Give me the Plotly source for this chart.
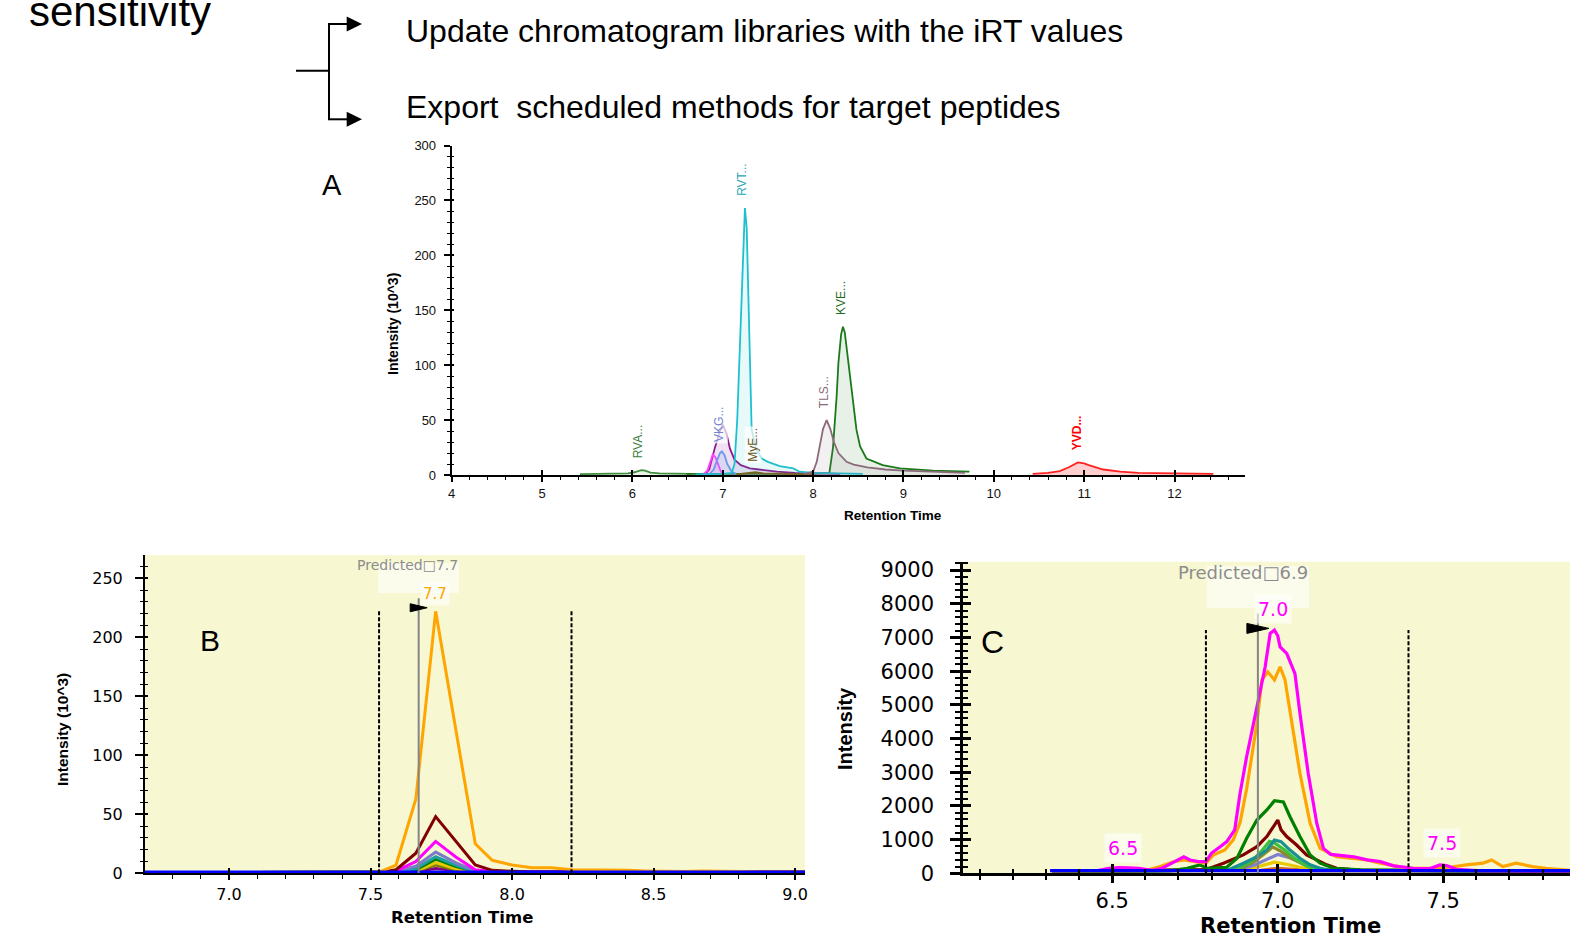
import plotly.graph_objects as go

W, H = 1570, 936
def PX(x): return x / W
def PY(y): return 1 - y / H

ARIAL = "Liberation Sans, Arial, sans-serif"
VERD = "DejaVu Sans, Verdana, sans-serif"

# ---------------- Panel A data (intensity in 10^3) ----------------
A_rva_x = [5.42, 5.6, 5.8, 5.95, 6.02, 6.07, 6.1, 6.14, 6.2, 6.3, 6.45, 6.65]
A_rva_y = [0.8, 1.0, 1.2, 1.5, 2.5, 4.0, 4.5, 4.0, 2.2, 1.5, 1.2, 1.0]
A_mag_x = [6.78, 6.83, 6.87, 6.89, 6.92, 6.95, 6.98, 7.02]
A_mag_y = [0.5, 4, 14, 19, 16, 9, 3, 0.5]
A_pur_x = [6.8, 6.85, 6.91, 6.96, 7.0, 7.04, 7.08, 7.13, 7.2, 7.3, 7.4, 7.6, 7.8, 8.0, 8.3]
A_pur_y = [0.5, 5, 24, 38, 46, 38, 24, 14, 9, 6, 5, 3, 2, 1.5, 1]
A_blu_x = [6.85, 6.9, 6.94, 6.97, 6.99, 7.02, 7.05, 7.1, 7.15]
A_blu_y = [0.5, 5, 14, 20, 21.5, 18, 10, 3, 1]
A_rvt_x = [6.7, 7.0, 7.1, 7.13, 7.16, 7.19, 7.22, 7.245, 7.265, 7.28, 7.3, 7.32, 7.37, 7.43, 7.5, 7.63, 7.78, 7.85, 8.0, 8.3, 8.55]
A_rvt_y = [0.5, 1, 2, 10, 50, 120, 200, 243, 225, 170, 86, 41, 24, 15, 12, 8, 6, 3, 2, 1.5, 1]
A_mye_x = [7.15, 7.3, 7.36, 7.45, 7.7, 8.0]
A_mye_y = [0.5, 1.5, 2.5, 1.5, 1, 0.5]
A_tls_x = [7.9, 8.0, 8.04, 8.07, 8.11, 8.15, 8.19, 8.23, 8.28, 8.37, 8.45, 8.6, 8.8, 9.0, 9.3, 9.68]
A_tls_y = [1, 3, 12, 26, 42, 50, 42, 30, 20, 12, 9.5, 7, 5, 4, 3, 2]
A_kve_x = [6.6, 8.0, 8.18, 8.22, 8.26, 8.28, 8.31, 8.33, 8.35, 8.38, 8.41, 8.45, 8.48, 8.52, 8.59, 8.77, 8.96, 9.33, 9.73]
A_kve_y = [1, 1, 2, 25, 71, 102, 128, 135, 130, 110, 90, 60, 41, 26, 15, 9, 6, 4, 3]
A_yvd_x = [10.43, 10.6, 10.73, 10.83, 10.93, 11.0, 11.05, 11.12, 11.21, 11.4, 11.6, 12.0, 12.43]
A_yvd_y = [1, 2, 3.6, 7, 11.5, 10.5, 9, 7, 5, 3, 2, 1.5, 1]

A_labels = ["RVA...", "VKG...", "RVT...", "MyE...", "TLS...", "KVE...", "YVD..."]
A_label_rt = [6.065, 6.96, 7.22, 7.34, 8.12, 8.31, 10.93]
A_label_y = [13.6, 28, 252, 10.6, 59, 144, 21]
A_label_col = ["#3E7E3E", "#7088D0", "#25A5B5", "#6B5518", "#8A6A7A", "#1E6E1E", "#FF0000"]

# ---------------- Panel B data (intensity in 10^3) ----------------
B_orange_rt = [6.70, 7.53, 7.59, 7.66, 7.73, 7.80, 7.87, 7.93, 8.00, 8.07, 8.14, 8.21,
               8.27, 8.34, 8.41, 8.47, 8.54, 8.61, 8.67, 8.74, 8.81, 8.87, 9.035]
B_orange = [0.5, 1, 7, 63, 222, 125, 25, 11, 7, 4.8, 4.8, 3,
            3, 3, 2.5, 2, 1.5, 1.5, 2, 2, 1.5, 1, 1]
B_rt = [6.70, 7.53, 7.59, 7.66, 7.73, 7.80, 7.87, 7.93, 8.00, 8.07, 9.035]
B_brown = [0.5, 0.5, 3, 17, 48, 27, 7, 2.5, 1.5, 1, 1]
B_magenta = [0.5, 0.5, 2, 10, 27, 14, 3, 1.5, 1, 1, 1]
B_slate = [0.5, 0.5, 1.5, 6, 18, 9, 2, 1, 1, 1, 1]
B_teal = [0.5, 0.5, 1, 4, 14, 7, 1.5, 1, 1, 1, 1]
B_green = [0.5, 0.5, 1, 3, 12, 6, 1.5, 1, 1, 1, 1]
B_yellow = [0.5, 0.5, 1, 2, 9, 4, 1, 1, 1, 1, 1]
B_olive = [0.5, 0.5, 1, 2, 7, 3, 1, 1, 1, 1, 1]
B_purple = [0.5, 0.5, 1, 1.5, 4, 2.5, 1.5, 1, 1, 1, 1]
B_blue_rt = [6.703, 9.035]
B_blue = [1.2, 1.2]
B_bounds = [7.53, 8.21]
B_bound_top = 223
B_pred = 7.67
B_pred_top = 233
B_flag_y = 225
B_apex = (7.726, "7.7", 237)
B_pred_text = (7.63, "Predicted\u25a17.7", 261)

# ---------------- Panel C data (intensity) ----------------
C_mag_x = [6.32, 6.46, 6.49, 6.52, 6.55, 6.58, 6.62, 6.65, 6.68, 6.70, 6.716, 6.735, 6.76, 6.783,
           6.80, 6.826, 6.846, 6.87, 6.886, 6.906, 6.937, 6.962, 6.977, 6.99, 7.0, 7.007, 7.027,
           7.052, 7.067, 7.092, 7.118, 7.138, 7.16, 7.19, 7.23, 7.27, 7.31, 7.35, 7.41, 7.46,
           7.49, 7.51, 7.54, 7.6, 7.7, 7.8, 7.883]
C_mag_y = [80, 90, 150, 170, 160, 150, 90, 150, 300, 400, 490, 395, 345, 345,
           600, 790, 940, 1290, 2370, 3460, 4940, 6130, 7120, 7220, 7050, 6720, 6530,
           5930, 4750, 2970, 1480, 740, 560, 520, 490, 400, 345, 220, 150, 140,
           250, 230, 120, 80, 80, 70, 70]
C_ora_x = [6.32, 6.6, 6.645, 6.685, 6.716, 6.745, 6.783, 6.805, 6.84, 6.866, 6.886, 6.906,
           6.937, 6.952, 6.97, 6.99, 7.007, 7.022, 7.042, 7.067, 7.098, 7.128, 7.178, 7.22,
           7.269, 7.31, 7.35, 7.39, 7.47, 7.52, 7.57, 7.62, 7.646, 7.68, 7.72, 7.77, 7.81,
           7.86, 7.883]
C_ora_y = [70, 80, 200, 345, 395, 345, 300, 540, 690, 1000, 1500, 2500,
           4450, 5740, 5980, 5740, 6130, 5740, 4450, 2970, 1480, 740, 490, 440,
           395, 300, 220, 150, 150, 180, 250, 300, 395, 200, 300, 200, 150,
           100, 90]
C_grn_x = [6.32, 6.68, 6.726, 6.765, 6.785, 6.846, 6.877, 6.906, 6.937, 6.967, 6.99, 7.017,
           7.037, 7.067, 7.098, 7.128, 7.168, 7.25, 7.5, 7.883]
C_grn_y = [60, 80, 150, 250, 150, 180, 445, 1040, 1580, 1880, 2155, 2120,
           1680, 1090, 545, 300, 150, 100, 80, 80]
C_red_x = [6.32, 6.78, 6.836, 6.86, 6.896, 6.937, 6.967, 7.0, 7.01, 7.027, 7.057, 7.087,
           7.118, 7.148, 7.178, 7.25, 7.883]
C_red_y = [60, 100, 300, 395, 545, 790, 1090, 1580, 1290, 1090, 840, 545,
           395, 250, 150, 90, 70]
C_teal_x = [6.32, 6.85, 6.896, 6.937, 6.967, 6.99, 7.01, 7.037, 7.067, 7.098, 7.128, 7.16, 7.883]
C_teal_y = [60, 100, 300, 490, 690, 990, 940, 690, 445, 250, 150, 90, 70]
C_lgr_x = [6.32, 6.87, 6.92, 6.95, 6.975, 6.99, 7.02, 7.05, 7.09, 7.13, 7.883]
C_lgr_y = [60, 100, 350, 650, 950, 900, 700, 450, 200, 90, 70]
C_oli_x = [6.32, 6.88, 6.93, 6.96, 6.985, 7.01, 7.04, 7.08, 7.12, 7.883]
C_oli_y = [60, 100, 350, 600, 780, 650, 450, 250, 100, 70]
C_sla_x = [6.32, 6.88, 6.93, 6.97, 7.0, 7.03, 7.07, 7.11, 7.15, 7.883]
C_sla_y = [60, 100, 250, 420, 560, 480, 330, 180, 90, 70]
C_yel_x = [6.32, 6.9, 6.95, 6.99, 7.03, 7.08, 7.12, 7.883]
C_yel_y = [60, 100, 220, 330, 260, 150, 90, 70]
C_sie_x = [6.32, 6.95, 7.0, 7.05, 7.1, 7.883]
C_sie_y = [60, 90, 150, 110, 80, 70]
C_blue_x = [6.312, 7.883]
C_blue_y = [80, 80]
C_bounds = [6.783, 7.395]
C_bound_top = 7220
C_pred = 6.94
C_pred_top = 7715
C_flag_y = 7270
C_apex_labels = [(6.532, "6.5", 750), (6.987, "7.0", 7840), (7.496, "7.5", 900)]
C_pred_text = (6.896, "Predicted\u25a16.9", 8930)

A_range_x = [4, 12.78]
A_range_y = [0, 300]
B_range_x = [6.703, 9.035]
B_range_y = [0, 269.7]
C_range_x = [6.049, 7.883]
C_range_y = [0, 9250]

fig = go.Figure()

# ---- Panel A traces ----
A_series = [
    (A_rva_x, A_rva_y, "#3E8E3E", "rgba(62,142,62,0.10)"),
    (A_kve_x, A_kve_y, "#1A7A1A", "rgba(26,122,26,0.10)"),
    (A_pur_x, A_pur_y, "#8B1A8B", "rgba(180,120,200,0.22)"),
    (A_mag_x, A_mag_y, "#FF44FF", "rgba(255,68,255,0.12)"),
    (A_blu_x, A_blu_y, "#6A9AE8", "rgba(106,154,232,0.15)"),
    (A_rvt_x, A_rvt_y, "#1EC0D0", "rgba(30,192,208,0.10)"),
    (A_mye_x, A_mye_y, "#7A6520", "rgba(122,101,32,0.08)"),
    (A_tls_x, A_tls_y, "#8B6B7B", "rgba(139,107,123,0.10)"),
    (A_yvd_x, A_yvd_y, "#FF2020", "rgba(255,32,32,0.22)"),
]
for xs, ys, col, fcol in A_series:
    fig.add_trace(go.Scatter(x=xs, y=ys, mode="lines", line=dict(color=col, width=1.8),
                             fill="tozeroy", fillcolor=fcol, xaxis="x", yaxis="y",
                             showlegend=False, hoverinfo="skip"))

# ---- Panel B traces ----
B_series = [
    (B_rt, B_purple, "#800080"), (B_rt, B_olive, "#808000"), (B_rt, B_yellow, "#E8C800"),
    (B_rt, B_green, "#008000"), (B_rt, B_teal, "#20A0A0"), (B_rt, B_slate, "#7B7BC8"),
    (B_rt, B_magenta, "#FF00FF"), (B_rt, B_brown, "#800000"), (B_orange_rt, B_orange, "#FFA500"),
    (B_blue_rt, B_blue, "#0000FF"),
]
for xs, ys, col in B_series:
    fig.add_trace(go.Scatter(x=xs, y=ys, mode="lines", line=dict(color=col, width=3),
                             xaxis="x2", yaxis="y2", showlegend=False, hoverinfo="skip"))

# ---- Panel C traces ----
C_series = [
    (C_sie_x, C_sie_y, "#D2691E"), (C_yel_x, C_yel_y, "#E8C800"), (C_sla_x, C_sla_y, "#8080D0"),
    (C_oli_x, C_oli_y, "#8B8B2A"), (C_lgr_x, C_lgr_y, "#3CC03C"), (C_teal_x, C_teal_y, "#1A9090"),
    (C_red_x, C_red_y, "#800000"), (C_grn_x, C_grn_y, "#008000"), (C_ora_x, C_ora_y, "#FFA500"),
    (C_mag_x, C_mag_y, "#FF00FF"), (C_blue_x, C_blue_y, "#0000FF"),
]
for xs, ys, col in C_series:
    fig.add_trace(go.Scatter(x=xs, y=ys, mode="lines", line=dict(color=col, width=3.2),
                             xaxis="x3", yaxis="y3", showlegend=False, hoverinfo="skip"))

# ---- boundaries, predicted line, flag ----
def add_markers(xa, ya, bounds, btop, pred, ptop, fy, hw, hh):
    for b in bounds:
        fig.add_trace(go.Scatter(x=[b, b], y=[0, btop], mode="lines",
                                 line=dict(color="black", width=2, dash="4px,2px"),
                                 xaxis=xa, yaxis=ya, showlegend=False, hoverinfo="skip"))
    fig.add_trace(go.Scatter(x=[pred, pred], y=[0, ptop], mode="lines",
                             line=dict(color="#858585", width=2),
                             xaxis=xa, yaxis=ya, showlegend=False, hoverinfo="skip"))
    fig.add_trace(go.Scatter(x=[pred - hw, pred + hw, pred - hw, pred - hw],
                             y=[fy + hh, fy, fy - hh, fy + hh], mode="lines",
                             fill="toself", fillcolor="black", line=dict(color="black", width=1),
                             xaxis=xa, yaxis=ya, showlegend=False, hoverinfo="skip"))

# B: 283 px per min, 1.18 px per unit ; C: 331 px per min, 0.0337 px per unit
add_markers("x2", "y2", B_bounds, B_bound_top, B_pred, B_pred_top, B_flag_y, 8.5 / 283, 4 / 1.18)
add_markers("x3", "y3", C_bounds, C_bound_top, C_pred, C_pred_top, C_flag_y, 11 / 331, 5 / 0.0337)

# invisible traces for the overlay axes that draw the inner half of crossing ticks
for xa, ya in [("x4", "y4"), ("x5", "y5"), ("x6", "y6")]:
    fig.add_trace(go.Scatter(x=[None], y=[None], mode="lines", xaxis=xa, yaxis=ya,
                             showlegend=False, hoverinfo="skip"))

axis_common = dict(showgrid=False, zeroline=False, showline=True, linecolor="black",
                   ticks="outside", tickcolor="black", automargin=False)
over_common = dict(showgrid=False, zeroline=False, showline=False, ticks="inside",
                   tickcolor="black", showticklabels=False, automargin=False)

def minor(d, tk, ln, w=1):
    return dict(dtick=d, ticks=tk, ticklen=ln, tickcolor="black", tickwidth=w, showgrid=False)

fig.update_layout(
    width=W, height=H, autosize=False,
    margin=dict(l=0, r=0, t=0, b=0, pad=0, autoexpand=False),
    paper_bgcolor="white", plot_bgcolor="rgba(0,0,0,0)",
    # ---- panel A ----
    xaxis=dict(domain=[PX(451.7), PX(1245)], range=A_range_x, anchor="y", dtick=1, tick0=0,
               linewidth=2, ticklen=5, tickwidth=1.5, minor=minor(0.2, "outside", 3),
               tickfont=dict(family=ARIAL, size=13, color="#111"), **axis_common),
    yaxis=dict(domain=[PY(475), PY(145.5)], range=A_range_y, anchor="x", dtick=50, tick0=0,
               linewidth=2, ticklen=6, tickwidth=1.5, minor=minor(10, "outside", 3),
               ticklabelstandoff=5,
               tickfont=dict(family=ARIAL, size=13, color="#111"), **axis_common),
    xaxis4=dict(overlaying="x", range=A_range_x, anchor="y", dtick=1, tick0=0,
                ticklen=5, tickwidth=1.5, **over_common),
    yaxis4=dict(overlaying="y", range=A_range_y, anchor="x", dtick=50, tick0=0,
                ticklen=2, tickwidth=1.5, minor=minor(10, "inside", 2), **over_common),
    # ---- panel B ----
    xaxis2=dict(domain=[PX(145), PX(805)], range=B_range_x, anchor="y2", dtick=0.5, tick0=0,
                tickformat=".1f", linewidth=2, ticklen=5, tickwidth=2, minor=minor(0.1, "outside", 4),
                tickfont=dict(family=VERD, size=16, color="black"), **axis_common),
    yaxis2=dict(domain=[PY(873.3), PY(555)], range=B_range_y, anchor="x2", dtick=50, tick0=0,
                linewidth=2, ticklen=8, tickwidth=2, minor=minor(10, "outside", 3),
                ticklabelstandoff=9,
                tickfont=dict(family=VERD, size=16, color="black"), **axis_common),
    xaxis5=dict(overlaying="x2", range=B_range_x, anchor="y2", dtick=0.5, tick0=0,
                ticklen=5, tickwidth=2, **over_common),
    yaxis5=dict(overlaying="y2", range=B_range_y, anchor="x2", dtick=50, tick0=0,
                ticklen=3, tickwidth=2, minor=minor(10, "inside", 3), **over_common),
    # ---- panel C ----
    xaxis3=dict(domain=[PX(963), 1.0], range=C_range_x, anchor="y3", dtick=0.5, tick0=0,
                tickformat=".1f", linewidth=2.5, ticklen=7, tickwidth=2.5,
                minor=minor(0.1, "outside", 4, 1.5), ticklabelstandoff=0,
                tickfont=dict(family=VERD, size=21, color="black"), **axis_common),
    yaxis3=dict(domain=[PY(873.3), PY(561.7)], range=C_range_y, anchor="x3", dtick=1000, tick0=0,
                linewidth=2.5, ticklen=10, tickwidth=2.5, minor=minor(200, "outside", 5, 2),
                ticklabelstandoff=12,
                tickfont=dict(family=VERD, size=21, color="black"), **axis_common),
    xaxis6=dict(overlaying="x3", range=C_range_x, anchor="y3", dtick=0.5, tick0=0,
                ticklen=9, tickwidth=2.5, minor=minor(0.1, "inside", 4, 1.5), **over_common),
    yaxis6=dict(overlaying="y3", range=C_range_y, anchor="x3", dtick=1000, tick0=0,
                ticklen=8, tickwidth=2.5, minor=minor(200, "inside", 5, 2), **over_common),
)

shapes = []
# yellow plot backgrounds
shapes.append(dict(type="rect", xref="x2 domain", yref="y2 domain", x0=0, x1=1, y0=0, y1=1,
                   fillcolor="#F7F7D2", line=dict(width=0), layer="below"))
shapes.append(dict(type="rect", xref="x3 domain", yref="y3 domain", x0=0, x1=1, y0=0, y1=1,
                   fillcolor="#F7F7D2", line=dict(width=0), layer="below"))
# faint label boxes
shapes.append(dict(type="rect", xref="paper", yref="paper", x0=PX(378), x1=PX(459), y0=PY(593), y1=PY(563),
                   fillcolor="rgba(255,255,255,0.6)", line=dict(width=0), layer="below"))
shapes.append(dict(type="rect", xref="paper", yref="paper", x0=PX(1206.7), x1=PX(1309), y0=PY(607.7), y1=PY(566),
                   fillcolor="rgba(255,255,255,0.6)", line=dict(width=0), layer="below"))
# bracket with arrows
bl = dict(color="black", width=2)
for (x0, y0, x1, y1) in [(296, 70.7, 329, 70.7), (329, 24, 329, 119.3), (328, 24, 348, 24), (328, 119.3, 348, 119.3)]:
    shapes.append(dict(type="line", xref="paper", yref="paper", x0=PX(x0), y0=PY(y0), x1=PX(x1), y1=PY(y1), line=bl))
for yc in (24, 119.3):
    path = "M {:.5f},{:.5f} L {:.5f},{:.5f} L {:.5f},{:.5f} Z".format(
        PX(346.7), PY(yc - 7.5), PX(362), PY(yc), PX(346.7), PY(yc + 7.5))
    shapes.append(dict(type="path", xref="paper", yref="paper", path=path, fillcolor="black", line=dict(width=0)))
fig.update_layout(shapes=shapes)

ann = []
def pann(text, x, y, size, family=ARIAL, color="black", weight="normal", xanchor="center", angle=0):
    ann.append(dict(text=text, x=PX(x), y=PY(y), xref="paper", yref="paper", showarrow=False,
                    xanchor=xanchor, yanchor="middle", textangle=angle,
                    font=dict(family=family, size=size, color=color, weight=weight)))

pann("sensitivity", 27, 12, 42, xanchor="left")
pann("Update chromatogram libraries with the iRT values", 404, 31, 32, xanchor="left")
pann("Export\u00a0 scheduled methods for target peptides", 404, 107, 32, xanchor="left")
pann("A", 332, 185, 29)
pann("B", 210, 640, 30)
pann("C", 992, 642, 32)
pann("Intensity (10^3)", 393, 324, 14, weight="bold", angle=-90)
pann("Retention Time", 893, 515, 13.5, weight="bold")
pann("Intensity (10^3)", 62, 730, 15.5, weight="bold", angle=-90)
pann("Retention Time", 462, 917, 16.5, family=VERD, weight="bold")
pann("Intensity", 845, 729, 20, weight="bold", angle=-90)
pann("Retention Time", 1290, 926, 21, family=VERD, weight="bold")

# Panel A peak labels (semi-transparent white boxes, as in the source software)
for txt, rt, yy, col in zip(A_labels, A_label_rt, A_label_y, A_label_col):
    ann.append(dict(text=txt, x=rt, y=yy, xref="x", yref="y", showarrow=False, textangle=-90,
                    xanchor="center", yanchor="bottom", bgcolor="rgba(255,255,255,0.7)", borderpad=1,
                    font=dict(family=ARIAL, size=12, color=col,
                              weight="bold" if txt.startswith("YVD") else "normal")))

# Panel B labels
ann.append(dict(text=B_pred_text[1], x=B_pred_text[0], y=B_pred_text[2], xref="x2", yref="y2",
                showarrow=False, xanchor="center", yanchor="middle",
                font=dict(family=VERD, size=14, color="#8C8C8C")))
ann.append(dict(text=B_apex[1], x=B_apex[0], y=B_apex[2], xref="x2", yref="y2", showarrow=False,
                xanchor="center", yanchor="middle", bgcolor="rgba(255,255,255,0.6)", borderpad=2,
                font=dict(family=VERD, size=15, color="#FFA500")))
# Panel C labels
ann.append(dict(text=C_pred_text[1], x=C_pred_text[0], y=C_pred_text[2], xref="x3", yref="y3",
                showarrow=False, xanchor="center", yanchor="middle",
                font=dict(family=VERD, size=18, color="#8C8C8C")))
for rt, txt, yy in C_apex_labels:
    ann.append(dict(text=txt, x=rt, y=yy, xref="x3", yref="y3", showarrow=False,
                    xanchor="center", yanchor="middle", bgcolor="rgba(255,255,255,0.6)", borderpad=3,
                    font=dict(family=VERD, size=19, color="#FF00FF")))

fig.update_layout(annotations=ann)
fig.write_html("out.html",
               post_script="document.body.style.margin='0';document.body.style.padding='0';"
                           "document.documentElement.style.overflow='hidden';")
